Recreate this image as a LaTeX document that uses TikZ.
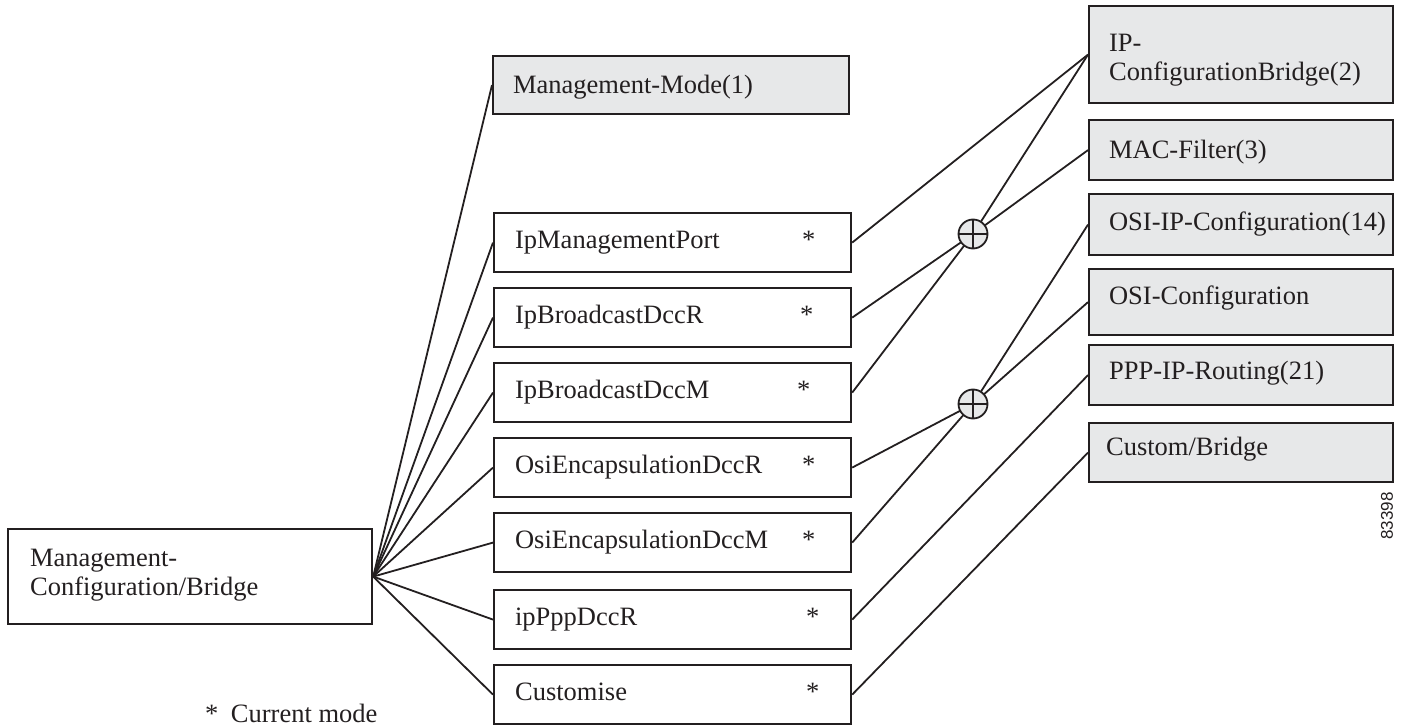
\documentclass[tikz,border=0pt]{standalone}
\usepackage{fontspec}
\setmainfont{Liberation Serif}
\newfontfamily\numfont{Liberation Sans}
\definecolor{ink}{RGB}{35,31,32}
\definecolor{boxgray}{RGB}{231,232,233}
\newcommand\bigfont{\fontsize{26.5}{29.5}\selectfont}
\newcommand\lab[2]{\makebox[#1][l]{#2}*}
\begin{document}
\begin{tikzpicture}[x=1pt,y=-1pt,
  every node/.style={text=ink},
  basebox/.style={draw=ink, line width=2.2pt, anchor=north west, align=left, font=\bigfont, text height=18pt},
  midbox/.style={basebox, minimum width=357pt, minimum height=59pt, inner xsep=21pt, text width=315pt, text depth=7pt},
  graybox/.style={basebox, fill=boxgray, minimum width=304pt, inner xsep=20pt, text width=264pt},
  conn/.style={draw=ink, line width=1.8pt},
  junction/.style={circle, draw=ink, fill=boxgray, line width=1.8pt, minimum size=29pt, inner sep=0pt, outer sep=0pt},
]
\useasboundingbox (0,0) rectangle (1405,727);

% left box
\node[basebox, minimum width=364pt, minimum height=95pt, inner xsep=22pt, text width=320pt, text depth=39pt] (mcb) at (7,528) {Management-\\Configuration/Bridge};

% middle column
\node[basebox, fill=boxgray, minimum width=356pt, minimum height=58pt, inner xsep=20pt, text width=316pt, text depth=2pt] (mm) at (492,55) {Management-Mode(1)};
\node[midbox] (m1) at (493,212) {\lab{287pt}{IpManagementPort}};
\node[midbox] (m2) at (493,287) {\lab{285pt}{IpBroadcastDccR}};
\node[midbox] (m3) at (493,362) {\lab{282pt}{IpBroadcastDccM}};
\node[midbox] (m4) at (493,437) {\lab{287pt}{OsiEncapsulationDccR}};
\node[midbox] (m5) at (493,512) {\lab{287pt}{OsiEncapsulationDccM}};
\node[midbox] (m6) at (493,589) {\lab{291pt}{ipPppDccR}};
\node[midbox] (m7) at (493,664) {\lab{291pt}{Customise}};

% right column
\node[graybox, minimum height=97pt, text depth=25pt] (ipcb) at (1088,5) {IP-\\ConfigurationBridge(2)};
\node[graybox, minimum height=60pt, text depth=2pt] (mac) at (1088,119) {MAC-Filter(3)};
\node[graybox, minimum height=61pt, text depth=7pt] (osiip) at (1088,193) {\makebox[264pt][l]{OSI-IP-Configuration(14)}};
\node[graybox, minimum height=66pt, text depth=14pt] (osic) at (1088,268) {OSI-Configuration};
\node[graybox, minimum height=60pt, text depth=10pt] (ppp) at (1088,344) {PPP-IP-Routing(21)};
\node[graybox, minimum height=59pt, text depth=13pt] (cb) at (1088,422) {\hspace*{-3pt}Custom/Bridge};

% junctions
\node[junction] (c1) at (973,234) {};
\node[junction] (c2) at (973,404) {};
\draw[conn] (c1.north) -- (c1.south) (c1.west) -- (c1.east);
\draw[conn] (c2.north) -- (c2.south) (c2.west) -- (c2.east);

% fan from left box
\foreach \t in {mm,m1,m2,m3,m4,m5,m6,m7}
  \draw[conn] (mcb.east) -- (\t.west);

% right side connectors
\draw[conn] (m1.east) -- (ipcb.west);
\draw[conn] (m2.east) -- (c1);
\draw[conn] (m3.east) -- (c1);
\draw[conn] (c1) -- (ipcb.west);
\draw[conn] (c1) -- (mac.west);
\draw[conn] (m4.east) -- (c2);
\draw[conn] (m5.east) -- (c2);
\draw[conn] (c2) -- (osiip.west);
\draw[conn] (c2) -- (osic.west);
\draw[conn] (m6.east) -- (ppp.west);
\draw[conn] (m7.east) -- (cb.west);

% legend and figure number
\node[font=\bigfont, anchor=base west, inner sep=0pt] (legend) at (205,722) {*\hspace{12.5pt}Current mode};
\node[font=\numfont\fontsize{17}{20}\selectfont, rotate=90, inner sep=0pt] (fignum) at (1387,516) {83398};
\end{tikzpicture}
\end{document}
